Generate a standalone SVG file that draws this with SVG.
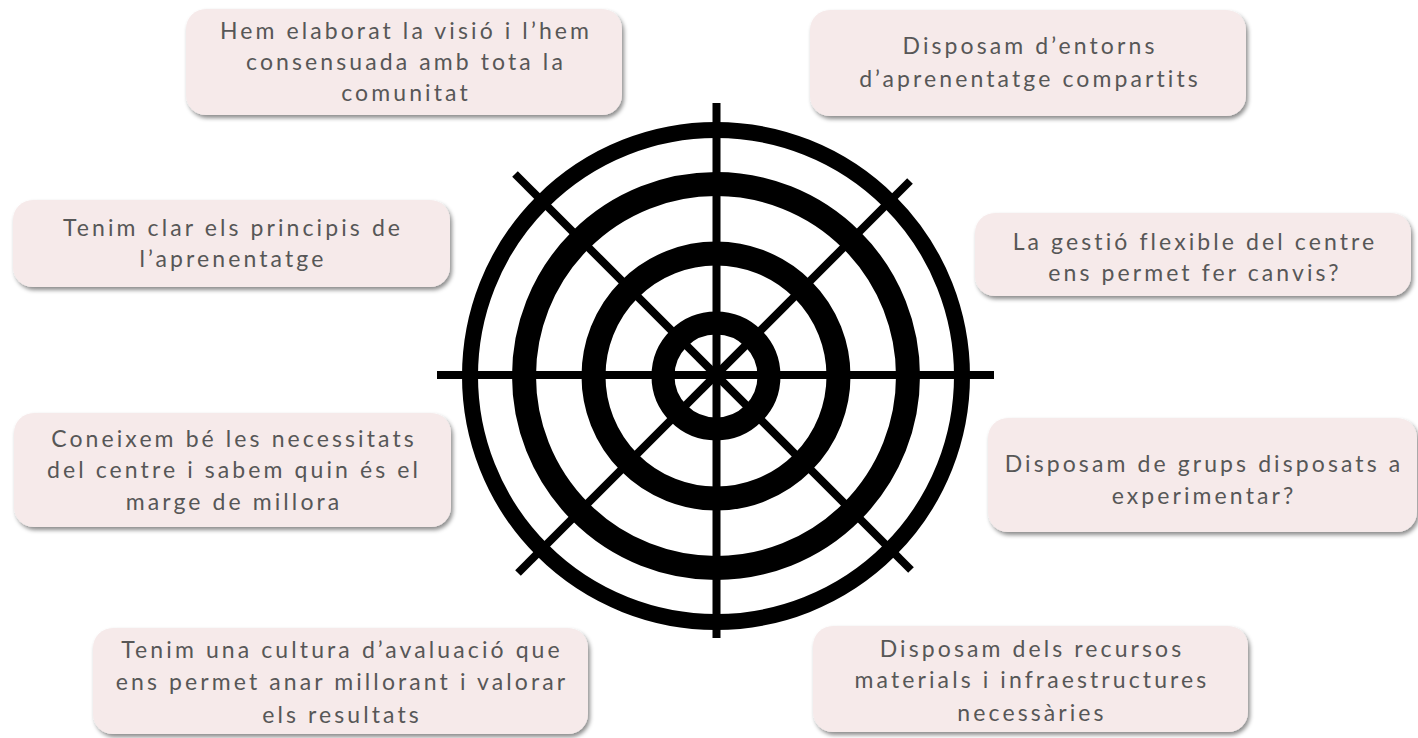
<svg xmlns="http://www.w3.org/2000/svg" width="1418" height="738" viewBox="0 0 1418 738">
  <defs>
    <filter id="sh" x="-10%" y="-20%" width="120%" height="150%">
      <feDropShadow dx="2" dy="3" stdDeviation="2" flood-color="#000" flood-opacity="0.45"/>
    </filter>
    <style>
      .box { fill: #F6EAEA; filter: url(#sh); }
      .lbl { font-family: Lato, "Liberation Sans", sans-serif; font-size: 23px; fill: #575757; text-anchor: middle; letter-spacing: 3.1px; }
      .ring { fill: none; stroke: #000; }
      .spoke { stroke: #000; stroke-width: 8; stroke-linecap: butt; }
    </style>
  </defs>
  <rect width="1418" height="738" fill="#fff"/>

  <g id="target">
    <g id="spokes">
      <line class="spoke" x1="437" y1="375" x2="994" y2="375"/>
      <line class="spoke" x1="716.5" y1="103" x2="716.5" y2="638"/>
      <line class="spoke" x1="515" y1="174" x2="911" y2="570"/>
      <line class="spoke" x1="910" y1="181" x2="518" y2="573"/>
    </g>
    <circle class="ring" cx="716" cy="376" r="246" stroke-width="16"/>
    <circle class="ring" cx="716" cy="376" r="192" stroke-width="24"/>
    <circle class="ring" cx="716" cy="376" r="122.5" stroke-width="24"/>
    <circle class="ring" cx="716" cy="376" r="53" stroke-width="23"/>
  </g>

  <g id="n1">
    <rect class="box" x="186" y="9" width="436" height="106" rx="20"/>
    <text class="lbl" x="406" y="39">Hem elaborat la visió i l’hem</text>
    <text class="lbl" x="406" y="70">consensuada amb tota la</text>
    <text class="lbl" x="406" y="101">comunitat</text>
  </g>
  <g id="n2">
    <rect class="box" x="810" y="10" width="436" height="106" rx="20"/>
    <text class="lbl" x="1030" y="54">Disposam d’entorns</text>
    <text class="lbl" x="1030" y="87">d’aprenentatge compartits</text>
  </g>
  <g id="n3">
    <rect class="box" x="13" y="200" width="437" height="87" rx="20"/>
    <text class="lbl" x="233" y="236">Tenim clar els principis de</text>
    <text class="lbl" x="233" y="267">l’aprenentatge</text>
  </g>
  <g id="n4">
    <rect class="box" x="975" y="213" width="436" height="83" rx="20"/>
    <text class="lbl" x="1195" y="250">La gestió flexible del centre</text>
    <text class="lbl" x="1195" y="281">ens permet fer canvis?</text>
  </g>
  <g id="n5">
    <rect class="box" x="14" y="413" width="437" height="114" rx="20"/>
    <text class="lbl" x="234" y="447">Coneixem bé les necessitats</text>
    <text class="lbl" x="234" y="478">del centre i sabem quin és el</text>
    <text class="lbl" x="234" y="510">marge de millora</text>
  </g>
  <g id="n6">
    <rect class="box" x="988" y="418" width="429" height="114" rx="20"/>
    <text class="lbl" x="1204" y="472">Disposam de grups disposats a</text>
    <text class="lbl" x="1204" y="504">experimentar?</text>
  </g>
  <g id="n7">
    <rect class="box" x="93" y="628" width="495" height="106" rx="20"/>
    <text class="lbl" x="342" y="658">Tenim una cultura d’avaluació que</text>
    <text class="lbl" x="342" y="690">ens permet anar millorant i valorar</text>
    <text class="lbl" x="342" y="723">els resultats</text>
  </g>
  <g id="n8">
    <rect class="box" x="813" y="626" width="435" height="106" rx="20"/>
    <text class="lbl" x="1032" y="657">Disposam dels recursos</text>
    <text class="lbl" x="1032" y="688">materials i infraestructures</text>
    <text class="lbl" x="1032" y="721">necessàries</text>
  </g>
</svg>
